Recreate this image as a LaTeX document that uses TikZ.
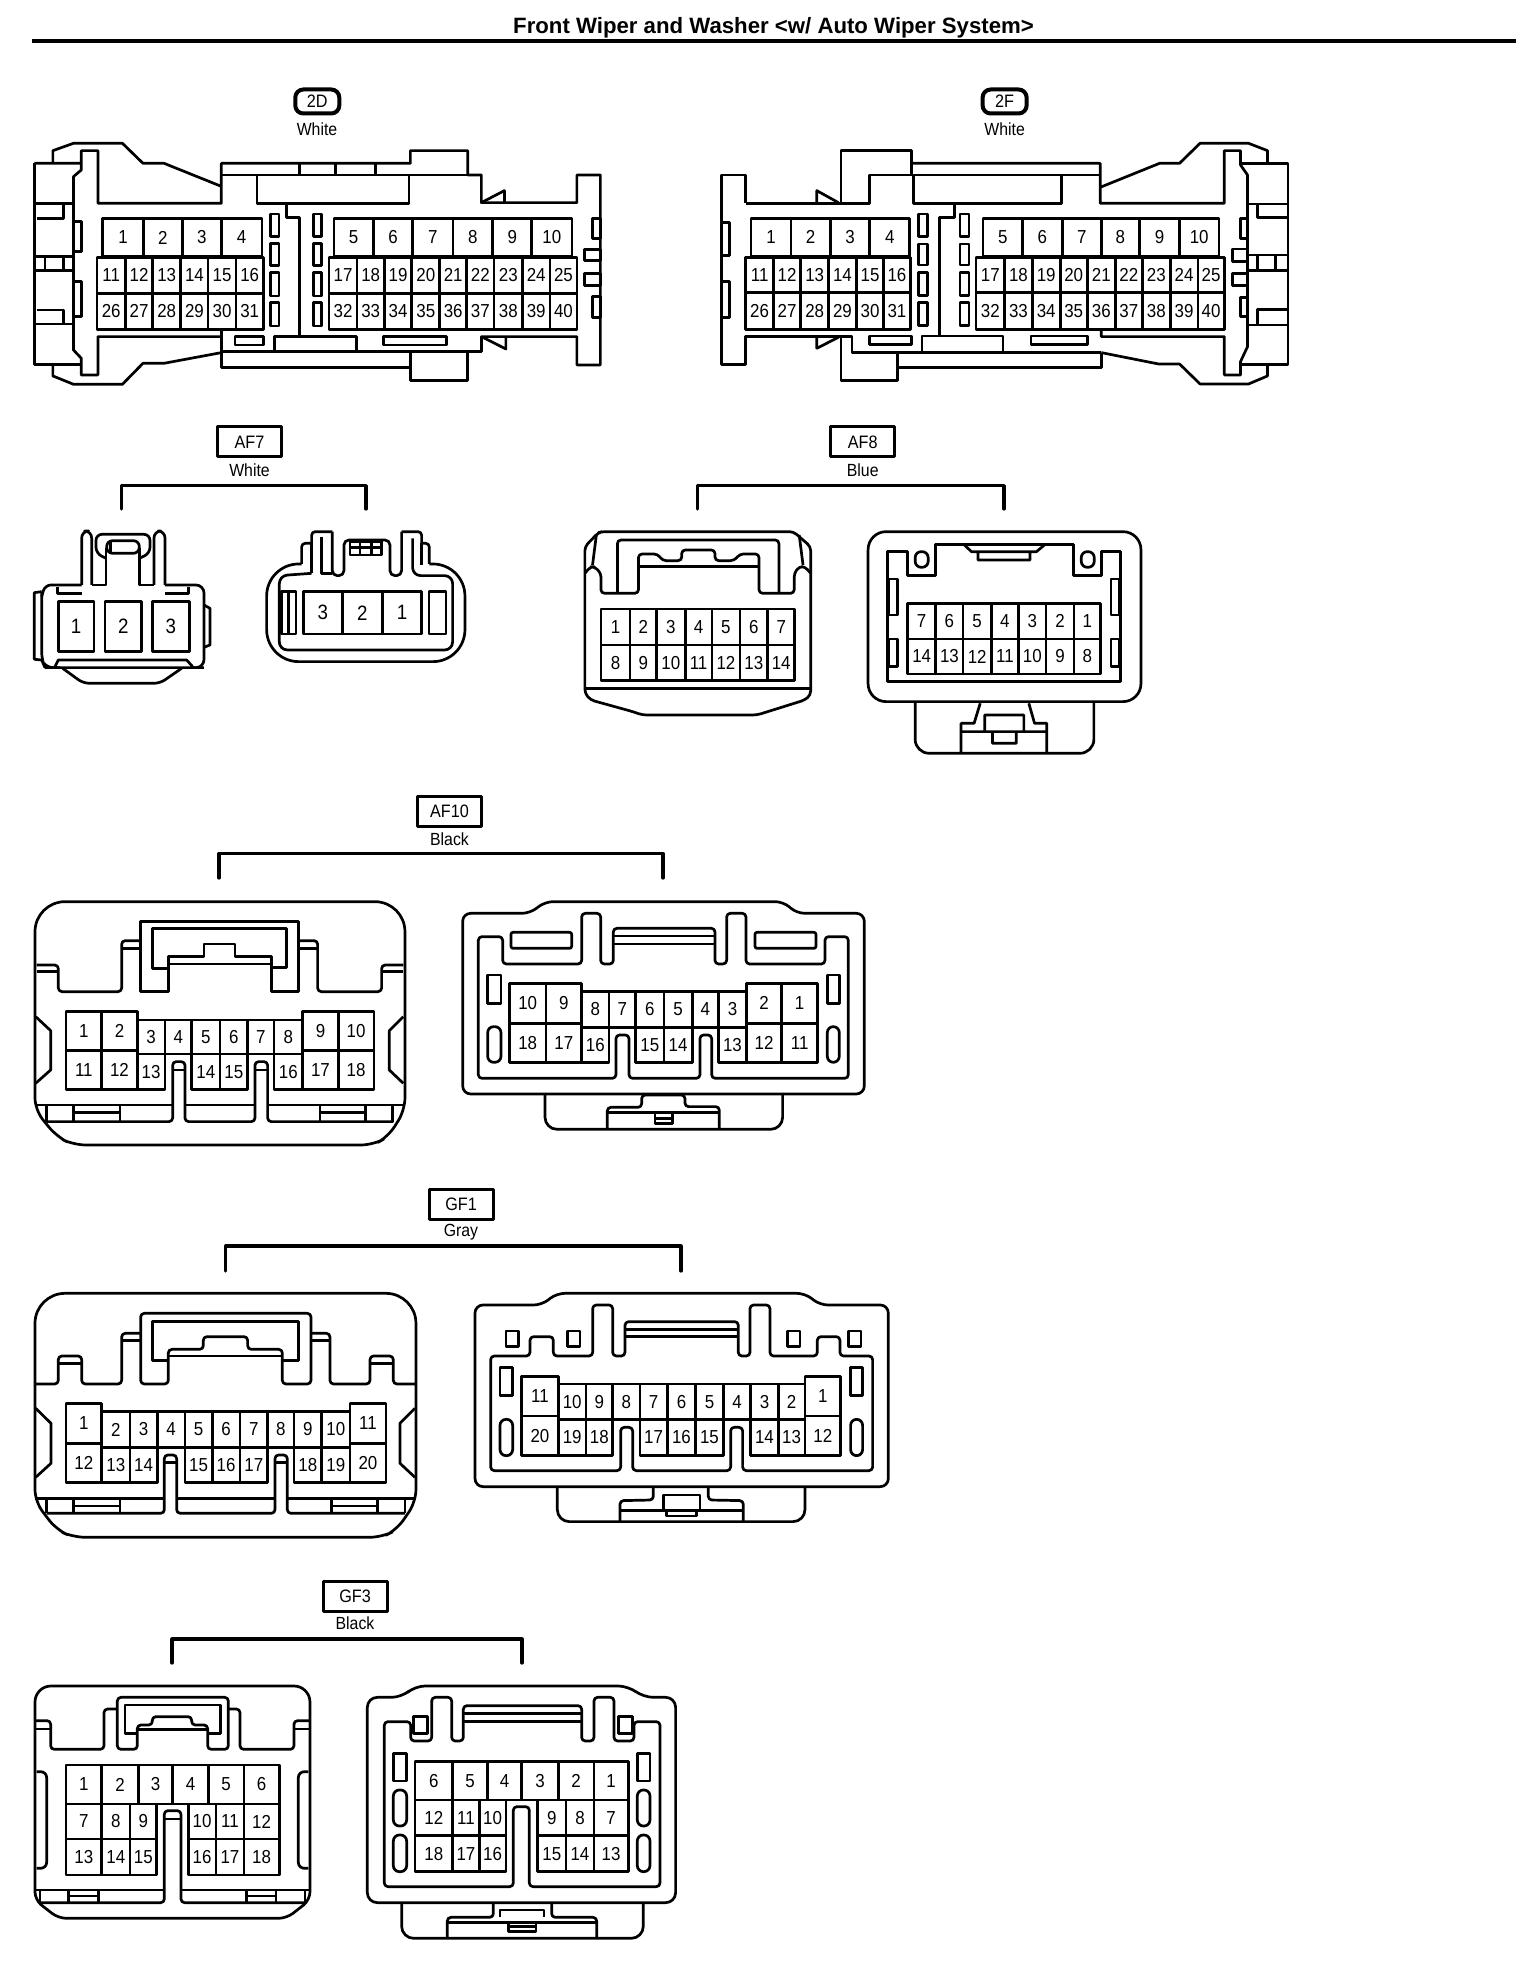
\documentclass[tikz,border=0pt]{standalone}
\usepackage{fontspec}
\setmainfont{Liberation Sans}
\newfontfamily\pinfam[FakeStretch=0.9]{Liberation Sans}
\newfontfamily\labfam[FakeStretch=0.9]{Liberation Sans}
\newcommand{\pinseq}[6]{\foreach \xb [remember=\xb as \xa (initially #3), count=\ci from 0] in {#4}{%
 \pgfmathtruncatemacro{\lab}{#5+\ci*(#6)}%
 \draw[pinbox] (\xa,#1) rectangle (\xb,#2);
 \node[pinlab] (\pinpre-\lab) at ({(\xa+\xb)/2},{(#1+#2)/2}) {\lab};}}
\tikzset{
 zs/.style n args={4}{shift={(#1,#2)},xscale=#3,yscale=#4},
 pinbox/.style={line width=1.35pt},
 pinlab/.style={font=\pinfam\fontsize{9.4}{10}\selectfont,inner sep=0pt},
 rc/.style={rounded corners=1.8pt},
 oval/.style={rounded corners=3pt},
 tagbox/.style={draw,line width=1.5pt,font=\labfam\fontsize{9}{10}\selectfont,inner sep=0pt,minimum width=32pt,minimum height=15pt},
 tagoct/.style={draw,line width=2pt,rounded corners=4pt,font=\labfam\fontsize{9}{10}\selectfont,inner sep=0pt,minimum width=22pt,minimum height=12pt},
 colour/.style={font=\labfam\fontsize{8.8}{10}\selectfont,inner sep=0pt},
 bracket/.style={line width=1.6pt,line cap=round},
}
\begin{document}
\begin{tikzpicture}[x=0.5pt,y=-0.5pt,line width=1.35pt,line join=round]
\useasboundingbox (0,0) rectangle (1536,1962);
\fill[white] (0,0) rectangle (1536,1962);
% title
\node[font=\bfseries\fontsize{11.1}{12}\selectfont,inner sep=0pt] (title) at (773.5,28) {Front Wiper and Washer <w/ Auto Wiper System>};
\coordinate (ruleL) at (32,41); \coordinate (ruleR) at (1516,41);
\draw[line width=2pt] (ruleL)--(ruleR);
% tags
\node[tagoct] (t2D) at (317.3,101.5) {2D};
\node[colour] (c2D) at (317,129) {White};
\node[tagoct] (t2F) at (1004.6,101.5) {2F};
\node[colour] (c2F) at (1004.6,129) {White};
\node[tagbox] (tAF7) at (249.5,442) {AF7};
\node[colour] (cAF7) at (249.5,470.5) {White};
\node[tagbox] (tAF8) at (862.7,442) {AF8};
\node[colour] (cAF8) at (862.7,470.5) {Blue};
\node[tagbox] (tAF10) at (449.5,811) {AF10};
\node[colour] (cAF10) at (449.5,839.5) {Black};
\node[tagbox] (tGF1) at (461,1204) {GF1};
\node[colour] (cGF1) at (461,1232.5) {Gray};
\node[tagbox] (tGF3) at (355,1596.5) {GF3};
\node[colour] (cGF3) at (355,1623.5) {Black};
% brackets
\coordinate (b7a) at (121.7,509); \coordinate (b7t) at (244,485.7); \coordinate (b7b) at (366,509);
\draw[bracket] (b7a) |- (b7t) -| (b7b);
\coordinate (b8a) at (697.8,509); \coordinate (b8t) at (850,485.7); \coordinate (b8b) at (1004,509);
\draw[bracket] (b8a) |- (b8t) -| (b8b);
\coordinate (b10a) at (219,878); \coordinate (b10t) at (440,853.5); \coordinate (b10b) at (663,878);
\draw[bracket] (b10a) |- (b10t) -| (b10b);
\coordinate (b1a) at (225.7,1271); \coordinate (b1t) at (450,1246); \coordinate (b1b) at (681,1271);
\draw[bracket] (b1a) |- (b1t) -| (b1b);
\coordinate (b3a) at (172,1663); \coordinate (b3t) at (350,1639); \coordinate (b3b) at (522,1663);
\draw[bracket] (b3a) |- (b3t) -| (b3b);

% ===== 2D =====
\begin{scope}[zs={0}{0}{0.4897}{0.3333}]
\def\pinpre{d}
\draw (108,490)--(108,452)--(150,430)--(250,430)--(292,490)--(335,490)--(450,558);
\draw (70,490)--(70,1093)--(166,1093);
\draw (70,490)--(166,490)--(166,452)--(200,452)--(200,610)--(452,610)--(452,490)--(838,490)--(838,452)--(955,452)--(955,525)--(983,525)--(983,608)--(1030,572)--(1030,606);
\draw (983,608)--(1178,608)--(1178,525)--(1226,525)--(1226,1095)--(1178,1095)--(1178,1010)--(983,1010)--(1033,1047)--(1033,1012);
\draw (983,1010)--(983,1055)--(452,1055);
\draw (452,525)--(955,525);
\draw (612,490)--(612,525) (685,490)--(685,525) (767,490)--(767,525);
\draw (525,525)--(525,610)--(835,610)--(835,525);
\draw (585,610)--(585,652)--(612,652)--(612,1010);
\draw (560,1055)--(560,1010)--(728,1010)--(728,1055);
\draw (480,1010) rectangle (538,1035);
\draw (783,1010) rectangle (912,1035);
\draw (70,610)--(150,610) (75,655)--(130,655)--(130,610) (70,770)--(150,770) (70,812)--(150,812) (92,770)--(92,812) (130,770)--(130,812) (75,930)--(130,930)--(130,972) (70,972)--(150,972);
\draw (166,490)--(166,510)--(150,530)--(150,1050)--(166,1075)--(166,1125)--(200,1125)--(200,1010)--(452,1010);
\draw (150,665) rectangle (166,755) (150,845) rectangle (166,950);
\draw (108,1095)--(108,1128)--(150,1153)--(250,1153)--(292,1090)--(335,1090)--(452,1058);
\draw (452,988)--(452,1103)--(838,1103)--(838,1142)--(955,1142)--(955,1055);
\draw (838,1055)--(838,1103);
\foreach \sx in {553,640}{\foreach \sa/\sb in {642/710,730/797,818/888,908/978}{\draw (\sx,\sa) rectangle (\sx+17,\sb);}}
\draw (1210,655) rectangle (1226,715) (1210,890) rectangle (1226,952) (1193,748) rectangle (1226,782) (1193,820) rectangle (1226,857);
\pinseq{655}{770}{210}{293,372,452,535}{1}{1}
\pinseq{655}{770}{682}{762,843,925,1006,1086,1168}{5}{1}
\pinseq{772}{880}{198}{256,312,369,425,482,538}{11}{1}
\pinseq{880}{988}{198}{256,312,369,425,482,538}{26}{1}
\pinseq{772}{880}{672}{729,785,841,898,953,1009,1067,1123,1178}{17}{1}
\pinseq{880}{988}{672}{729,785,841,898,953,1009,1067,1123,1178}{32}{1}
\end{scope}

% ===== 2F =====
\begin{scope}[zs={690}{60}{0.5397}{0.3333}]
\def\pinpre{f}
\draw (103,430)--(103,345)--(58,345)--(58,913)--(103,913)--(103,830)--(300,830)--(300,878)--(762,878);
\draw (103,430)--(333,430)--(333,345)--(760,345);
\draw (235,430)--(235,392)--(275,428);
\draw (280,430)--(280,272)--(410,272)--(410,345);
\draw (410,310)--(760,310)--(760,430)--(990,430)--(990,272)--(1020,272)--(1020,315)--(1033,345)--(1033,860)--(1020,905)--(1020,945)--(990,945)--(990,830)--(762,830)--(762,808);
\draw (760,382)--(870,310)--(907,310)--(945,250)--(1035,250)--(1070,272)--(1070,310);
\draw (1020,310)--(1108,310)--(1108,913)--(1020,913);
\draw (1070,913)--(1070,948)--(1035,972)--(945,972)--(907,912)--(868,912)--(762,878);
\draw (414,345)--(414,430)--(688,430)--(688,345);
\draw (490,430)--(490,472)--(462,472)--(462,828);
\draw (280,830)--(280,962)--(384,962)--(384,878);
\draw (384,922)--(762,922)--(762,878);
\draw (235,830)--(235,865)--(275,832);
\draw (430,878)--(430,828)--(580,828)--(580,878);
\draw (332,828) rectangle (410,853) (632,828) rectangle (737,853);
\draw (1033,432)--(1108,432) (1052,432)--(1052,472)--(1108,472) (1033,585)--(1108,585) (1033,632)--(1108,632) (1052,585)--(1052,632) (1085,585)--(1085,632) (1052,795)--(1052,748)--(1108,748) (1033,795)--(1108,795);
\draw (1020,475) rectangle (1033,535) (1020,713) rectangle (1033,770) (1005,567) rectangle (1033,605) (1005,640) rectangle (1033,677);
\draw (58,487) rectangle (73,587) (58,665) rectangle (73,773);
\foreach \sx in {423,500}{\foreach \sa/\sb in {462/530,552/615,638/706,728/797}{\draw (\sx,\sa) rectangle (\sx+17,\sb);}}
\pinseq{475}{588}{113}{187,260,333,407}{1}{1}
\pinseq{475}{588}{543}{616,690,762,833,907,980}{5}{1}
\pinseq{592}{698}{103}{155,205,257,308,359,408}{11}{1}
\pinseq{698}{808}{103}{155,205,257,308,359,408}{26}{1}
\pinseq{592}{698}{530}{583,634,686,736,788,838,890,941,990}{17}{1}
\pinseq{698}{808}{530}{583,634,686,736,788,838,890,941,990}{32}{1}
\end{scope}

% ===== AF7 =====
\begin{scope}[zs={0}{410}{0.3333}{0.3333}]
\tikzset{pinlab/.append style={font=\pinfam\fontsize{10.4}{11}\selectfont}}
\def\pinpre{gL}
\draw[rounded corners=3pt] (125,560)--(135,525)--(245,525);
\draw[rounded corners=3.5pt] (245,525)--(245,363)--(275,363)--(275,525);
\draw (275,525)--(318,525)--(318,415);
\draw (418,415)--(418,525)--(462,525);
\draw[rounded corners=3.5pt] (462,525)--(462,363)--(495,363)--(495,525);
\draw[rounded corners=4pt] (495,525)--(612,525)--(612,773)--(575,773);
\draw[rounded corners=4pt] (180,773)--(135,773)--(125,750)--(125,545);
\draw (125,545)--(103,548)--(103,748)--(125,750);
\draw (612,585)--(630,595)--(630,705)--(612,712);
\draw (172,530)--(172,550)--(245,550) (495,550)--(565,550)--(565,530);
\draw[rounded corners=3pt] (318,445)--(288,430)--(288,373)--(450,373)--(450,430)--(418,445);
\draw[rounded corners=3pt] (320,430)--(320,392)--(418,392)--(418,430)--cycle;
\draw (332,395)--(332,428);
\draw (135,773)--(612,773) (165,770)--(175,750)--(560,750)--(578,770);
\draw[rounded corners=3pt] (188,775)--(250,820)--(480,820)--(545,775);
\pinseq{575}{725}{175}{282}{1}{1}
\pinseq{575}{725}{315}{425}{2}{1}
\pinseq{575}{725}{457}{568}{3}{1}
\def\pinpre{gR}
\draw[rounded corners=16pt] (905,462)--(800,462)--(800,755)--(1395,755)--(1395,462)--(1288,462);
\draw[rc] (905,462)--(905,400)--(935,400);
\draw[rc] (935,400)--(935,365)--(997,365);
\draw[rounded corners=2.5pt] (997,365)--(997,497)--(1032,497)--(1032,390)--(1170,390)--(1170,497)--(1205,497)--(1205,365);
\draw[rc] (1205,365)--(1265,365)--(1265,400);
\draw[rc] (1265,400)--(1288,400)--(1288,462);
\draw[rounded corners=4pt] (935,490)--(838,497)--(838,720)--(1358,720)--(1358,497)--(1238,497)--(1238,385);
\draw (935,400)--(935,490);
\draw (965,380)--(965,490)--(997,490);
\draw (1265,400)--(1265,465);
\draw (1050,395) rectangle (1145,435) (1050,413)--(1145,413) (1080,395)--(1080,413) (1115,395)--(1115,413) (1080,413)--(1080,435) (1115,413)--(1115,435);
\draw (845,545) rectangle (888,672) (866,545)--(866,672);
\draw (1287,545) rectangle (1338,672);
\pinseq{545}{672}{910}{1027}{3}{1}
\pinseq{545}{672}{1027}{1147}{2}{1}
\pinseq{545}{672}{1147}{1265}{1}{1}
\end{scope}

% ===== AF8 =====
\begin{scope}[zs={560}{410}{0.3827}{0.3333}]
\def\pinpre{hL}
\draw[rounded corners=2pt] (65,410)--(100,368)--(110,365)--(610,365)--(655,410)--(655,855)--(640,870)--(515,915)--(215,915)--(190,905)--(80,870)--(65,850)--cycle;
\draw (95,375)--(85,465) (625,375)--(635,465);
\draw[rc] (65,490)--(80,470)--(90,470)--(107,490)--(107,550)--(205,550)--(205,432)--(255,432)--(268,452)--(318,452)--(318,420)--(405,420)--(405,452)--(455,452)--(470,432)--(520,432)--(520,550)--(612,550)--(612,490)--(625,470)--(640,470)--(655,490);
\draw[rc] (150,550)--(150,390)--(572,390)--(572,550);
\draw (205,470)--(520,470);
\pinseq{597}{705}{107}{183,252,327,397,470,543,613}{1}{1}
\pinseq{705}{812}{107}{183,252,327,397,470,543,613}{8}{1}
\draw (65,835)--(655,835);
\def\pinpre{hR}
\draw[rounded corners=9pt] (805,365) rectangle (1518,875);
\draw (855,815)--(855,425)--(908,425)--(908,497)--(982,497)--(982,403)--(1342,403)--(1342,497)--(1415,497)--(1415,425)--(1465,425)--(1465,815)--cycle;
\draw[rounded corners=3pt] (928,425) rectangle (962,472) (1362,425) rectangle (1396,472);
\draw (1055,403)--(1075,425)--(1245,425)--(1268,403) (1092,425)--(1092,450)--(1228,450)--(1228,425);
\draw (860,507) rectangle (882,615) (860,687) rectangle (882,770) (1440,507) rectangle (1462,615) (1440,687) rectangle (1462,770);
\pinseq{580}{687}{908}{982,1053,1127,1198,1270,1343,1413}{7}{-1}
\pinseq{687}{792}{908}{982,1053,1127,1198,1270,1343,1413}{14}{-1}
\draw[rounded corners=7pt] (928,875)--(928,1030)--(1395,1030)--(1395,875);
\draw (1098,880)--(1082,940)--(1048,940)--(1048,1028) (1225,880)--(1240,940)--(1272,940)--(1272,1028) (1048,965)--(1272,965) (1110,965)--(1110,915)--(1212,915)--(1212,965) (1130,965)--(1130,1000)--(1192,1000)--(1192,965);
\end{scope}

% ===== AF10 left =====
\begin{scope}[zs={20}{790}{0.3333}{0.3333}]
\def\pinpre{iL}
\draw[rounded corners=15pt] (45,600)--(45,335)--(1155,335)--(1155,600);
\draw[rounded corners=6pt] (45,600)--(45,960)--(110,1040)--(160,1065)--(1060,1065)--(1105,1040)--(1155,960)--(1155,600);
\draw[rc] (50,525)--(115,525)--(115,605)--(305,605)--(305,452)--(360,452);
\draw (50,545)--(115,545) (305,475)--(362,475) (838,475)--(893,475) (1085,545)--(1150,545);
\draw (362,605)--(362,395)--(835,395)--(835,605)--(755,605)--(755,500)--(645,500)--(645,462)--(552,462)--(552,500)--(445,500)--(445,605)--cycle;
\draw (445,535)--(398,535)--(398,415)--(800,415)--(800,532)--(755,532) (445,522)--(755,522);
\draw[rc] (838,452)--(893,452)--(893,605)--(1085,605)--(1085,525)--(1150,525);
\draw (47,680)--(92,722)--(92,840)--(47,880) (1150,680)--(1108,722)--(1108,840)--(1150,880);
\pinseq{665}{782}{138}{245,352}{1}{1}
\pinseq{665}{782}{848}{955,1062}{9}{1}
\pinseq{782}{898}{138}{245,352}{11}{1}
\pinseq{782}{898}{848}{955,1062}{17}{1}
\pinseq{690}{792}{352}{435,515,600,683,762,848}{3}{1}
\pinseq{792}{898}{352}{435}{13}{1}
\pinseq{792}{898}{515}{600,683}{14}{1}
\pinseq{792}{898}{762}{848}{16}{1}
\draw[rc] (80,995)--(458,995)--(458,815)--(495,815)--(495,995)--(705,995)--(705,815)--(743,815)--(743,995)--(1120,995);
\draw (458,840)--(495,840) (705,840)--(743,840);
\draw (45,945)--(458,945) (495,945)--(705,945) (743,945)--(1155,945);
\draw (160,945)--(160,993) (300,945)--(300,993) (160,968)--(300,968) (900,945)--(900,993) (1037,945)--(1037,993) (900,968)--(1037,968) (80,945)--(80,995) (1118,945)--(1118,995);
\end{scope}

% ===== AF10 right =====
\begin{scope}[zs={450}{790}{0.3333}{0.3333}]
\def\pinpre{iR}
\draw[rounded corners=4pt] (38,370)--(240,370)--(285,335)--(1000,335)--(1040,370)--(1243,370)--(1243,912)--(38,912)--cycle;
\draw[rc] (85,865)--(85,440)--(158,440)--(158,522)--(395,522)--(395,370)--(452,370)--(452,522)--(490,522)--(490,415)--(795,415)--(795,522)--(830,522)--(830,370)--(888,370)--(888,522)--(1125,522)--(1125,440)--(1195,440)--(1195,865)--(785,865)--(785,735)--(750,735)--(750,865)--(537,865)--(537,735)--(498,735)--(498,865)--cycle;
\draw (490,438)--(795,438) (490,462)--(795,462);
\draw[rounded corners=1pt] (183,427) rectangle (365,475) (915,427) rectangle (1098,475);
\draw (113,555) rectangle (153,640) (1132,555) rectangle (1168,640);
\draw[oval] (113,710) rectangle (153,817) (1132,710) rectangle (1168,817);
\pinseq{580}{700}{178}{288,395}{10}{-1}
\pinseq{700}{817}{178}{288,395}{18}{-1}
\pinseq{580}{700}{890}{995,1103}{2}{-1}
\pinseq{700}{817}{890}{995,1103}{12}{-1}
\pinseq{605}{712}{395}{477,557,642,727,805,890}{8}{-1}
\pinseq{712}{817}{395}{477}{16}{-1}
\pinseq{712}{817}{557}{642,727}{15}{-1}
\pinseq{712}{817}{805}{890}{13}{-1}
\draw[rounded corners=6pt] (285,912)--(285,1018)--(998,1018)--(998,912);
\draw[rc] (472,1018)--(472,952)--(575,952)--(575,915)--(705,915)--(705,950)--(808,950)--(808,1018);
\draw (472,968)--(808,968) (615,968)--(615,1000)--(668,1000)--(668,968) (615,985)--(668,985);
\end{scope}

% ===== GF1 left =====
\begin{scope}[zs={20}{1190}{0.3333}{0.3333}]
\def\pinpre{jL}
\draw[rounded corners=15pt] (45,600)--(45,310)--(1188,310)--(1188,600);
\draw[rounded corners=6pt] (45,600)--(45,935)--(110,1020)--(160,1042)--(1085,1042)--(1130,1020)--(1188,935)--(1188,600);
\draw[rc] (45,582)--(115,582)--(115,498)--(185,498)--(185,582)--(305,582)--(305,430)--(362,430);
\draw (305,452)--(362,452) (115,520)--(185,520) (873,452)--(930,452) (1050,520)--(1120,520);
\draw[rc] (445,582)--(362,582)--(362,370)--(873,370)--(873,582)--(787,582)--(787,478)--(683,478)--(683,440)--(550,440)--(550,478)--(445,478)--cycle;
\draw (445,512)--(398,512)--(398,395)--(835,395)--(835,512)--(787,512) (445,498)--(787,498);
\draw[rc] (873,430)--(930,430)--(930,582)--(1050,582)--(1050,498)--(1120,498)--(1120,582)--(1188,582);
\draw (47,655)--(93,700)--(93,820)--(47,862) (1185,655)--(1140,700)--(1140,820)--(1185,862);
\pinseq{640}{760}{138}{245}{1}{1}
\pinseq{760}{878}{138}{245}{12}{1}
\pinseq{640}{760}{990}{1098}{11}{1}
\pinseq{760}{878}{990}{1098}{20}{1}
\pinseq{665}{772}{245}{330,412,495,577,660,743,822,905,990}{2}{1}
\pinseq{772}{878}{245}{330,412}{13}{1}
\pinseq{772}{878}{495}{577,660,743}{15}{1}
\pinseq{772}{878}{822}{905,990}{18}{1}
\draw[rc] (80,970)--(433,970)--(433,795)--(470,795)--(470,970)--(765,970)--(765,795)--(802,795)--(802,970)--(1155,970);
\draw (433,818)--(470,818) (765,818)--(802,818);
\draw (45,925)--(433,925) (470,925)--(765,925) (802,925)--(1188,925);
\draw (160,925)--(160,970) (300,925)--(300,970) (160,948)--(300,948) (935,925)--(935,970) (1072,925)--(1072,970) (935,948)--(1072,948) (80,925)--(80,970) (1155,925)--(1155,970);
\end{scope}

% ===== GF1 right =====
\begin{scope}[zs={460}{1190}{0.3333}{0.3333}]
\def\pinpre{jR}
\draw[rounded corners=4pt] (45,345)--(245,345)--(290,310)--(1035,310)--(1080,345)--(1285,345)--(1285,890)--(45,890)--cycle;
\draw[rc] (92,842)--(92,498)--(210,498)--(210,440)--(280,440)--(280,498)--(398,498)--(398,345)--(458,345)--(458,498)--(495,498)--(495,395)--(835,395)--(835,498)--(870,498)--(870,345)--(930,345)--(930,498)--(1072,498)--(1072,440)--(1140,440)--(1140,498)--(1238,498)--(1238,842)--(848,842)--(848,712)--(812,712)--(812,842)--(518,842)--(518,712)--(482,712)--(482,842)--cycle;
\draw (495,418)--(835,418) (495,440)--(835,440);
\draw (138,423) rectangle (175,470) (322,423) rectangle (360,470) (982,423) rectangle (1020,470) (1165,423) rectangle (1203,470);
\draw (120,533) rectangle (158,617) (1172,533) rectangle (1208,617);
\draw[oval] (120,688) rectangle (158,797) (1172,688) rectangle (1208,797);
\pinseq{560}{678}{185}{295}{11}{1}
\pinseq{678}{797}{185}{295}{20}{1}
\pinseq{560}{678}{1035}{1142}{1}{1}
\pinseq{678}{797}{1035}{1142}{12}{1}
\pinseq{582}{688}{295}{378,458,540,622,707,790,872,955,1035}{10}{-1}
\pinseq{688}{797}{295}{378,458}{19}{-1}
\pinseq{688}{797}{540}{622,707,790}{17}{-1}
\pinseq{688}{797}{872}{955,1035}{14}{-1}
\draw[rounded corners=6pt] (292,890)--(292,995)--(1035,995)--(1035,890);
\draw[rc] (480,995)--(480,932)--(580,930)--(580,893);
\draw[rc] (745,893)--(745,930)--(850,932)--(850,995);
\draw (480,962)--(850,962) (610,962)--(610,915)--(720,915)--(720,962) (620,962)--(620,978)--(710,978)--(710,962);
\end{scope}

% ===== GF3 left =====
\begin{scope}[zs={20}{1580}{0.3333}{0.3333}]
\def\pinpre{kL}
\draw[rounded corners=8pt] (45,600)--(45,318)--(870,318)--(870,600);
\draw[rounded corners=4pt] (45,600)--(45,960)--(115,1015)--(800,1015)--(870,960)--(870,600);
\draw[rc] (45,422)--(92,422)--(92,508)--(252,508)--(252,387)--(292,387);
\draw (45,447)--(92,447) (822,447)--(870,447);
\draw[rc] (352,435)--(352,508)--(292,508)--(292,352)--(625,352)--(625,508)--(563,508)--(563,435)--(515,435)--(515,410)--(397,410)--(397,435)--cycle;
\draw (352,460)--(315,460)--(315,375)--(602,375)--(602,460)--(563,460) (352,448)--(563,448);
\draw[rc] (625,387)--(660,387)--(660,508)--(822,508)--(822,422)--(870,422);
\draw[rounded corners=3pt] (50,575)--(80,575)--(80,865)--(50,865) (865,575)--(835,575)--(835,865)--(865,865);
\pinseq{555}{672}{138}{245,355,458,565,672,778}{1}{1}
\pinseq{672}{777}{138}{245,330,410}{7}{1}
\pinseq{672}{777}{505}{588,672,778}{10}{1}
\pinseq{777}{885}{138}{245,330,410}{13}{1}
\pinseq{777}{885}{505}{588,672,778}{16}{1}
\draw[rc] (60,968)--(433,968)--(433,692)--(483,692)--(483,968)--(855,968);
\draw (433,717)--(483,717);
\draw (45,930)--(433,930) (483,930)--(870,930);
\draw (60,930)--(60,968) (145,930)--(145,968) (235,930)--(235,968) (145,948)--(235,948) (680,930)--(680,968) (768,930)--(768,968) (680,948)--(768,948) (855,930)--(855,968);
\end{scope}

% ===== GF3 right =====
\begin{scope}[zs={350}{1580}{0.3333}{0.3333}]
\def\pinpre{kR}
\draw[rounded corners=5pt] (52,352)--(155,352)--(195,318)--(835,318)--(880,352)--(977,352)--(977,968)--(52,968)--cycle;
\draw[rc] (103,920)--(103,425)--(182,425)--(182,483)--(245,483)--(245,352)--(305,352)--(305,483)--(340,483)--(340,377)--(695,377)--(695,483)--(732,483)--(732,352)--(792,352)--(792,483)--(852,483)--(852,425)--(930,425)--(930,920)--(538,920)--(538,680)--(490,680)--(490,920)--cycle;
\draw (340,400)--(695,400) (340,425)--(695,425);
\draw (190,410) rectangle (232,460) (805,410) rectangle (848,460);
\draw (130,520) rectangle (170,603) (862,520) rectangle (900,603);
\draw[oval] (130,630) rectangle (170,738) (130,765) rectangle (170,875) (862,630) rectangle (900,738) (862,765) rectangle (900,875);
\pinseq{545}{660}{195}{308,412,515,625,732,835}{6}{-1}
\pinseq{660}{767}{195}{308,388,468}{12}{-1}
\pinseq{660}{767}{563}{648,732,835}{9}{-1}
\pinseq{767}{875}{195}{308,388,468}{18}{-1}
\pinseq{767}{875}{563}{648,732,835}{15}{-1}
\draw[rounded corners=6pt] (155,968)--(155,1075)--(880,1075)--(880,968);
\draw[rc] (292,1075)--(292,1012)--(430,1012)--(430,970);
\draw[rc] (605,970)--(605,1012)--(740,1012)--(740,1075);
\draw (292,1028)--(740,1028) (450,1012)--(450,990)--(582,990)--(582,1012) (475,1028)--(475,1055)--(558,1055)--(558,1028) (475,1040)--(558,1040);
\end{scope}
\end{tikzpicture}
\end{document}
